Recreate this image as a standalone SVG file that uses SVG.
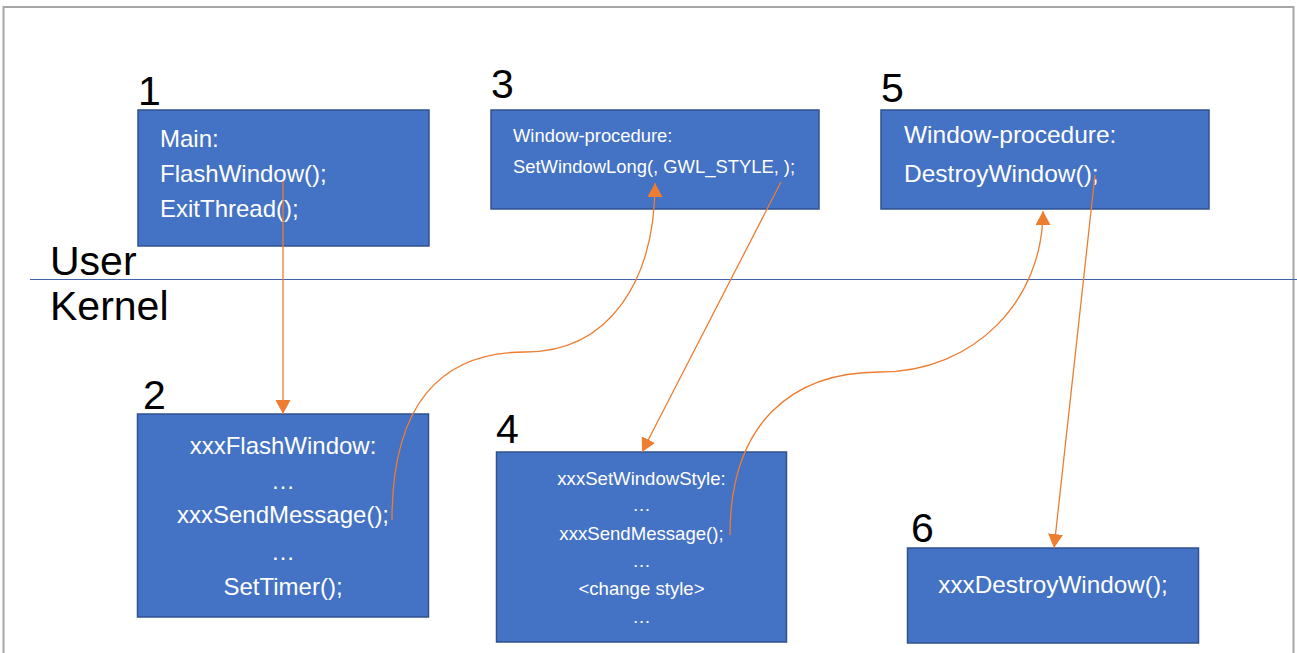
<svg xmlns="http://www.w3.org/2000/svg" width="1297" height="653" viewBox="0 0 1297 653">
<style>
.box{fill:#4472C4;stroke:#2F528F;stroke-width:1.5}
.t{fill:#FFFFFF;font-family:"Liberation Sans",Arial,sans-serif}
.num{fill:#000;font-family:"Liberation Sans",Arial,sans-serif;font-size:41px}
.lbl{fill:#000;font-family:"Liberation Sans",Arial,sans-serif;font-size:41px}
.c{fill:none;stroke:#ED7D31;stroke-width:1.3;marker-end:url(#ah)}
</style>
<defs>
<marker id="ah" markerUnits="userSpaceOnUse" markerWidth="15" markerHeight="15" refX="14" refY="7.5" orient="auto">
<path d="M0,0 L14,7.5 L0,15 z" fill="#ED7D31"/>
</marker>
</defs>
<rect x="0" y="0" width="1297" height="653" fill="#FFFFFF"/>
<rect x="3.5" y="7" width="1290" height="660" fill="none" stroke="#A6A6A6" stroke-width="2"/>
<line x1="30" y1="279.5" x2="1297" y2="279.5" stroke="#3F64A8" stroke-width="1.2"/>
<text class="lbl" x="50" y="275">User</text>
<text class="lbl" x="50" y="320">Kernel</text>

<g id="node1">
<text class="num" x="138" y="105">1</text>
<rect class="box" x="138" y="110" width="291" height="136"/>
<text class="t" font-size="24" x="160" y="147">Main:</text>
<text class="t" font-size="24" x="160" y="182">FlashWindow();</text>
<text class="t" font-size="24" x="160" y="217">ExitThread();</text>
</g>
<g id="node3">
<text class="num" x="491" y="98">3</text>
<rect class="box" x="491" y="110" width="328" height="99"/>
<text class="t" font-size="18.4" x="513" y="142">Window-procedure:</text>
<text class="t" font-size="18.4" x="513" y="173">SetWindowLong(, GWL_STYLE, );</text>
</g>
<g id="node5">
<text class="num" x="881" y="102">5</text>
<rect class="box" x="881" y="110" width="328" height="99"/>
<text class="t" font-size="24.5" x="904" y="143">Window-procedure:</text>
<text class="t" font-size="24.5" x="904" y="182">DestroyWindow();</text>
</g>
<g id="node2">
<text class="num" x="143" y="409">2</text>
<rect class="box" x="137.5" y="414" width="291" height="203"/>
<g class="t" font-size="24" text-anchor="middle">
<text x="283" y="454">xxxFlashWindow:</text>
<text x="283" y="489">…</text>
<text x="283" y="523">xxxSendMessage();</text>
<text x="283" y="560">…</text>
<text x="283" y="595">SetTimer();</text>
</g>
</g>
<g id="node4">
<text class="num" x="496" y="443">4</text>
<rect class="box" x="496.5" y="452" width="290" height="190"/>
<g class="t" font-size="18.6" text-anchor="middle">
<text x="641.5" y="485">xxxSetWindowStyle:</text>
<text x="641.5" y="511">…</text>
<text x="641.5" y="540">xxxSendMessage();</text>
<text x="641.5" y="567">…</text>
<text x="641.5" y="595">&lt;change style&gt;</text>
<text x="641.5" y="623">…</text>
</g>
</g>
<g id="node6">
<text class="num" x="911" y="542">6</text>
<rect class="box" x="907.5" y="548" width="291" height="95"/>
<text class="t" font-size="24.3" x="1053" y="593" text-anchor="middle">xxxDestroyWindow();</text>
</g>

<g id="connectors">
<path class="c" d="M283,181 L283,414"/>
<path class="c" d="M392,520 C392,405 440,352 525,352 C610,352 655,280 655,183"/>
<path class="c" d="M781,182 L642,452"/>
<path class="c" d="M730,535 C730,425 790,372 880,372 C975,372 1043,300 1043,211"/>
<path class="c" d="M1095,175 L1054,548"/>
</g>
</svg>
